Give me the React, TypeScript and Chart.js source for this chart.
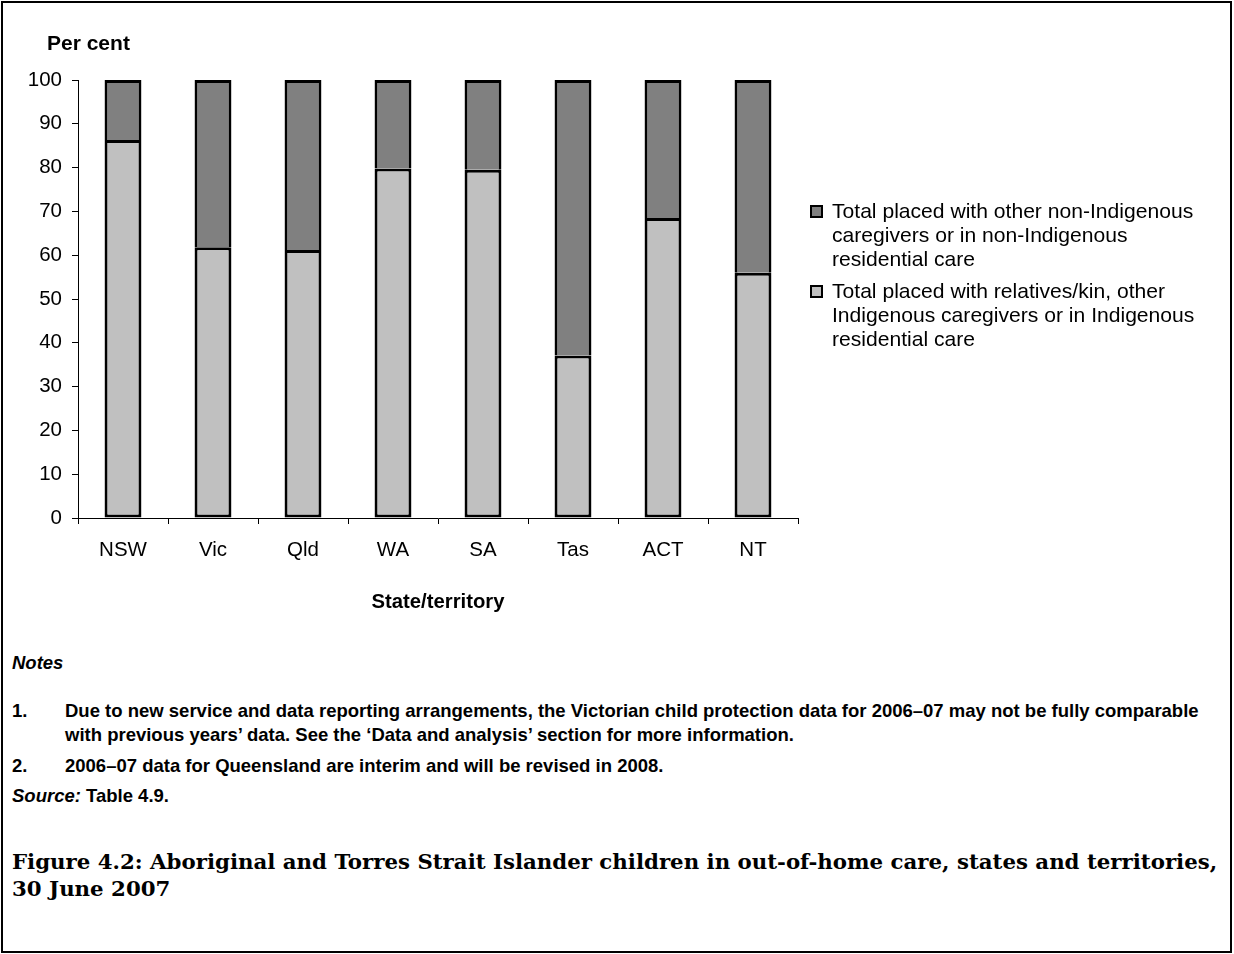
import React, { useEffect, useRef } from "react";
import { Chart, registerables } from "chart.js";

Chart.register(...registerables);

// Out-of-home care placements by state/territory (per cent)
const states = ["NSW", "Vic", "Qld", "WA", "SA", "Tas", "ACT", "NT"];
const withIndigenousCare = [86.3, 61.8, 61.2, 79.8, 79.5, 37.1, 68.5, 56.0];
const withNonIndigenousCare = [13.7, 38.2, 38.8, 20.2, 20.5, 62.9, 31.5, 44.0];

const yMin = 0;
const yMax = 100;
const yStep = 10;

const legendNonIndigenous = [
  "Total placed with other non-Indigenous",
  "caregivers or in non-Indigenous",
  "residential care",
];
const legendIndigenous = [
  "Total placed with relatives/kin, other",
  "Indigenous caregivers or in Indigenous",
  "residential care",
];

const LIGHT = "#C0C0C0";
const DARK = "#808080";
const SANS = '"Liberation Sans", Arial, Helvetica, sans-serif';
const SERIF = '"DejaVu Serif", "Liberation Serif", serif';

const abs = (left: number, top: number, extra: React.CSSProperties = {}): React.CSSProperties => ({
  position: "absolute",
  left,
  top,
  whiteSpace: "nowrap",
  color: "#000",
  ...extra,
});

function LegendItem({ lines, color, top }: { lines: string[]; color: string; top: number }) {
  return (
    <>
      <div
        style={abs(810, top + 5.5, {
          width: 13,
          height: 13,
          boxSizing: "border-box",
          border: "2px solid #000",
          background: color,
        })}
      />
      <div style={abs(832, top, { fontFamily: SANS, fontSize: 21.1, lineHeight: "24px" })}>
        {lines.map((l, i) => (
          <div key={i}>{l}</div>
        ))}
      </div>
    </>
  );
}

export default function App() {
  const canvasRef = useRef<HTMLCanvasElement | null>(null);

  useEffect(() => {
    if (!canvasRef.current) return;
    const chart = new Chart(canvasRef.current, {
      type: "bar",
      data: {
        labels: states,
        datasets: [
          {
            label: legendIndigenous.join(" "),
            data: withIndigenousCare,
            backgroundColor: LIGHT,
            borderColor: "#000",
            borderWidth: 3,
            borderSkipped: false,
            barPercentage: 0.41,
            categoryPercentage: 1,
            clip: false,
          },
          {
            label: legendNonIndigenous.join(" "),
            data: withNonIndigenousCare,
            backgroundColor: DARK,
            borderColor: "#000",
            borderWidth: 3,
            borderSkipped: "start",
            barPercentage: 0.41,
            categoryPercentage: 1,
            clip: false,
          },
        ],
      },
      options: {
        responsive: false,
        animation: false,
        events: [],
        layout: { padding: { left: 0, top: 80, right: 436, bottom: 22 } },
        plugins: {
          legend: { display: false },
          tooltip: { enabled: false },
        },
        scales: {
          x: {
            stacked: true,
            grid: {
              offset: true,
              drawOnChartArea: false,
              drawTicks: true,
              tickLength: 6,
              color: "#000",
              lineWidth: 1,
            },
            border: { display: true, color: "#000", width: 1 },
            ticks: {
              color: "#000",
              font: { family: SANS, size: 20.5 },
              padding: 14,
              maxRotation: 0,
              autoSkip: false,
            },
            title: {
              display: true,
              text: "State/territory",
              color: "#000",
              font: { family: SANS, size: 20.3, weight: "bold" },
              padding: { top: 0, bottom: 3 },
            },
            afterFit: (scale: any) => {
              scale.height = 100;
            },
          },
          y: {
            stacked: true,
            min: yMin,
            max: yMax,
            ticks: {
              stepSize: yStep,
              color: "#000",
              font: { family: SANS, size: 20.5 },
              padding: 10,
            },
            grid: {
              drawOnChartArea: false,
              drawTicks: true,
              tickLength: 6,
              color: "#000",
              lineWidth: 1,
            },
            border: { display: true, color: "#000", width: 1 },
            afterFit: (scale: any) => {
              scale.width = 78;
            },
          },
        },
      },
    });
    return () => chart.destroy();
  }, []);

  const noteText: React.CSSProperties = {
    fontFamily: SANS,
    fontSize: 18.5,
    fontWeight: "bold",
    lineHeight: "24px",
  };
  const caption: React.CSSProperties = {
    fontFamily: SERIF,
    fontSize: 21.3,
    fontWeight: "bold",
    lineHeight: "27px",
  };

  return (
    <div style={{ position: "absolute", left: 0, top: 0, width: 1234, height: 954, background: "#fff" }}>
      <div
        style={{
          position: "absolute",
          left: 1,
          top: 1,
          width: 1231,
          height: 952,
          boxSizing: "border-box",
          border: "2px solid #000",
        }}
      />
      <canvas
        ref={canvasRef}
        width={1234}
        height={640}
        style={{ position: "absolute", left: 0, top: 0, width: 1234, height: 640 }}
      />
      <div style={abs(47, 31, { fontFamily: SANS, fontSize: 21, fontWeight: "bold", lineHeight: "24px" })}>
        Per cent
      </div>

      <LegendItem lines={legendNonIndigenous} color={DARK} top={199} />
      <LegendItem lines={legendIndigenous} color={LIGHT} top={279} />

      <div style={abs(12, 651, { ...noteText, fontStyle: "italic" })}>Notes</div>
      <div style={abs(12, 699, noteText)}>1.</div>
      <div style={abs(65, 699, noteText)}>
        Due to new service and data reporting arrangements, the Victorian child protection data for 2006–07 may not be fully comparable
        <br />
        with previous years’ data. See the ‘Data and analysis’ section for more information.
      </div>
      <div style={abs(12, 754, noteText)}>2.</div>
      <div style={abs(65, 754, noteText)}>2006–07 data for Queensland are interim and will be revised in 2008.</div>
      <div style={abs(12, 784, noteText)}>
        <span style={{ fontStyle: "italic" }}>Source:</span> Table 4.9.
      </div>

      <div style={abs(12, 848, caption)}>
        Figure 4.2: Aboriginal and Torres Strait Islander children in out-of-home care, states and territories,
        <br />
        30 June 2007
      </div>
    </div>
  );
}
